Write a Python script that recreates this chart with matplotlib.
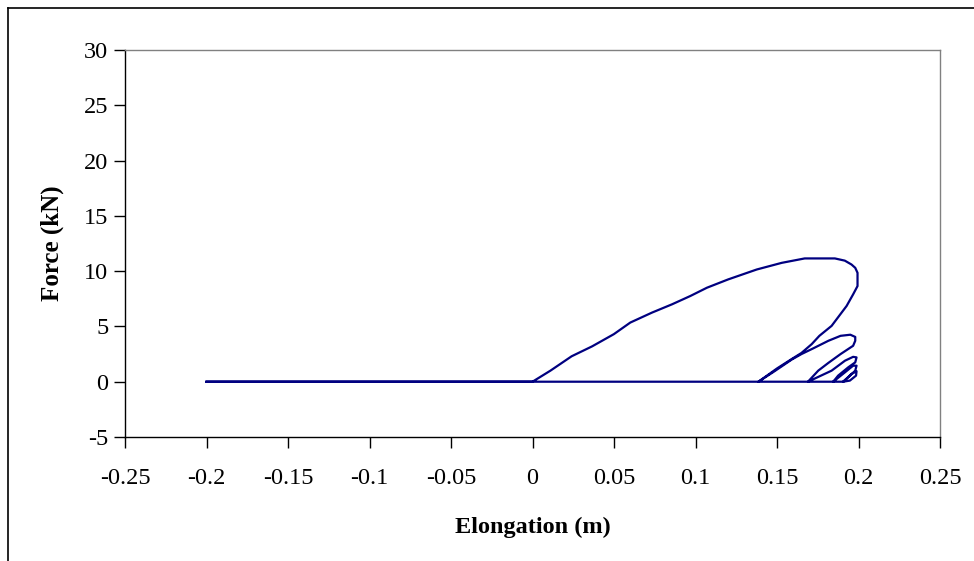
import matplotlib
matplotlib.use("Agg")
import matplotlib.pyplot as plt
from matplotlib.lines import Line2D

plt.rcParams["font.family"] = ["Liberation Serif", "DejaVu Serif"]
plt.rcParams["axes.unicode_minus"] = False

# flat approach from -0.2 to 0
flat_x = [-0.2, 0.0]
flat_y = [0.0, 0.0]

# first (large) loop
loop1_x = [0.0, 0.011, 0.024, 0.0366, 0.0499, 0.060, 0.0733, 0.0856, 0.0968, 0.107,
           0.120, 0.1376, 0.1529, 0.167, 0.1855, 0.1916, 0.1957, 0.198, 0.1994, 0.1994,
           0.1967, 0.1927, 0.1835, 0.176, 0.1713, 0.165, 0.159, 0.150, 0.1386]
loop1_y = [0.0, 1.0, 2.3, 3.2, 4.3, 5.35, 6.25, 7.0, 7.75, 8.5,
           9.25, 10.15, 10.75, 11.15, 11.15, 10.95, 10.6, 10.3, 9.85, 8.65,
           7.9, 6.85, 5.05, 4.15, 3.4, 2.6, 2.05, 1.2, 0.0]

# second loop
loop2_x = [0.1386, 0.148, 0.159, 0.165, 0.172, 0.1815, 0.189, 0.195, 0.198,
           0.198, 0.1967, 0.189, 0.1815, 0.1753, 0.169]
loop2_y = [0.0, 0.9, 2.0, 2.5, 3.0, 3.7, 4.15, 4.25, 4.05,
           3.7, 3.25, 2.5, 1.7, 1.0, 0.0]

# third loop
loop3_x = [0.169, 0.1835, 0.1917, 0.1967, 0.1988, 0.198, 0.1937, 0.1875, 0.1845]
loop3_y = [0.0, 1.0, 1.9, 2.25, 2.2, 1.75, 1.3, 0.55, 0.0]

# fourth loop
loop4_x = [0.1845, 0.1917, 0.1967, 0.1988, 0.198, 0.1937, 0.1906]
loop4_y = [0.0, 0.85, 1.45, 1.45, 1.0, 0.4, 0.0]

# fifth loop
loop5_x = [0.1906, 0.1957, 0.1988, 0.1985, 0.1947]
loop5_y = [0.0, 0.7, 0.95, 0.55, 0.1]

# return along the axis
back_x = [0.1947, 0.1906, -0.2]
back_y = [0.1, 0.0, 0.0]

x = flat_x + loop1_x + loop2_x + loop3_x + loop4_x + loop5_x + back_x
y = flat_y + loop1_y + loop2_y + loop3_y + loop4_y + loop5_y + back_y

fig = plt.figure(figsize=(9.74, 5.61), dpi=100)
ax = fig.add_axes([125 / 974, 124 / 561, 815 / 974, 387 / 561])

ax.plot(x, y, color="#000080", lw=1.6, solid_joinstyle="round")

ax.set_xlim(-0.25, 0.25)
ax.set_ylim(-5, 30)
xticks = [-0.25, -0.2, -0.15, -0.1, -0.05, 0, 0.05, 0.1, 0.15, 0.2, 0.25]
ax.set_xticks(xticks)
ax.set_xticklabels([f"{v:g}" for v in xticks])
ax.set_yticks(range(-5, 31, 5))

for s in ["top", "right"]:
    ax.spines[s].set_color("#808080")
for s in ["left", "bottom"]:
    ax.spines[s].set_color("black")
for s in ax.spines.values():
    s.set_linewidth(1.0)

ax.tick_params(direction="out", length=8, width=1, labelsize=17.5, pad=4)
ax.tick_params(axis="x", pad=14)

ax.set_xlabel("Elongation (m)", fontsize=17.5, fontweight="bold", labelpad=20)
ax.set_ylabel("Force (kN)", fontsize=18, fontweight="bold", labelpad=14)

# outer chart frame (only left and top visible)
fig.add_artist(Line2D([8 / 974, 8 / 974], [0, 1 - 8 / 561], color="black", lw=1.2,
                      transform=fig.transFigure))
fig.add_artist(Line2D([8 / 974, 1], [1 - 8 / 561, 1 - 8 / 561], color="black", lw=1.2,
                      transform=fig.transFigure))

fig.savefig("out.png", dpi=100)
